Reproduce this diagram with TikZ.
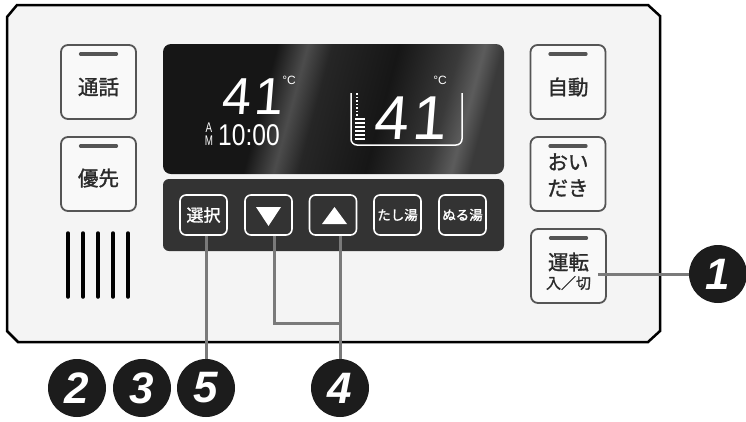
\documentclass[tikz,border=0pt]{standalone}
\usepackage{fontspec}
\usepackage{graphicx}
\setmainfont{Liberation Sans}
\newfontfamily\jp[FakeBold=1.4]{Noto Sans CJK JP}
\newfontfamily\seg[FakeSlant=0.08]{Liberation Sans}

\definecolor{panelgray}{HTML}{F4F4F4}
\definecolor{btngray}{HTML}{555555}
\definecolor{btnfill}{HTML}{F9F9F9}
\definecolor{txtgray}{HTML}{2A2A2A}
\definecolor{keyback}{HTML}{333333}
\definecolor{leadgray}{HTML}{7A7A7A}
\definecolor{markblack}{HTML}{1C1C1C}
\definecolor{lcdA}{HTML}{161616}
\definecolor{lcdB}{HTML}{4C4C4C}
\definecolor{lcdD}{HTML}{262626}
\definecolor{lcdE}{HTML}{3A3A3A}
\definecolor{lcdC}{HTML}{5C5C5C}
\pgfdeclarehorizontalshading{lcdglare}{100bp}{color(0bp)=(lcdA); color(25bp)=(lcdA); color(38bp)=(lcdA); color(43bp)=(lcdB); color(47bp)=(lcdD); color(58bp)=(lcdA); color(68bp)=(lcdE); color(72bp)=(lcdC); color(75bp)=(lcdE); color(100bp)=(lcdE)}

\begin{document}
\begin{tikzpicture}[x=1pt,y=-1pt,
	btn/.style={draw=btngray,line width=1.8pt,rounded corners=7pt,fill=btnfill,minimum width=75pt,minimum height=74pt,inner sep=0pt,
		path picture={\draw[line width=3.2pt,line cap=round] ([xshift=-18pt,yshift=-9pt]path picture bounding box.north) -- ([xshift=18pt,yshift=-9pt]path picture bounding box.north);}},
	lbl/.style={font=\jp\fontsize{20.5}{26}\selectfont,text=txtgray,inner sep=0pt,align=center},
	key/.style={draw=white,line width=1.6pt,rounded corners=6pt,minimum width=47pt,minimum height=40pt,inner sep=0pt,text=white},
	lcdtext/.style={text=white,inner sep=0pt,text depth=0pt},
	lead/.style={draw=leadgray,line width=3pt},
	callout/.style={circle,fill=markblack,minimum size=58pt,inner sep=0pt,text=white,font=\fontsize{44}{44}\selectfont\bfseries\itshape}]
	\useasboundingbox (0,0) rectangle (746,421);
	\fill[white] (0,0) rectangle (746,421);
	\draw[line width=2.5pt,fill=panelgray] (17,5) -- (648,5) -- (660,16) -- (660,331) -- (648,342) -- (18,342) -- (7,331) -- (7,17) -- cycle;

	\node[btn] (tsuwa) at (98.5,82) {};
	\node[btn] (yusen) at (98.5,174) {};
	\node[btn] (jidou) at (568,82) {};
	\node[btn] (oidaki) at (568,174) {};
	\node[btn] (unten) at (568.5,266) {};
	\node[lbl] (tsuwa-t) at ([yshift=-5pt]tsuwa.center) {通話};
	\node[lbl] (yusen-t) at ([yshift=-4pt]yusen.center) {優先};
	\node[lbl] (jidou-t) at ([yshift=-5pt]jidou.center) {自動};
	\node[lbl] (oidaki-t) at ([yshift=-1pt]oidaki.center) {おい\\だき};
	\node[lbl] (unten-t) at ([yshift=4pt]unten.center) {運転};
	\node[lbl,font=\jp\fontsize{15}{15}\selectfont] (kiri-t) at ([yshift=-17pt]unten.center) {入／切};

	\foreach \x in {68,83,...,128}
		\draw[line width=3.5pt,line cap=round] (\x,233) -- (\x,297);

	\shade[shading=lcdglare,shading angle=-15,rounded corners=8pt] (163,44) rectangle (504,174);
	\fill[keyback,rounded corners=6pt] (163,179) rectangle (504,251);

	\node[lcdtext,font=\seg\fontsize{52}{52}\selectfont,text height=37pt,anchor=west] (tempa) at (221,95.5) {4\hspace{3.5pt}1};
	\node[lcdtext,font=\fontsize{12}{12}\selectfont] (dega) at (289,80) {°C};
	\node[lcdtext,font=\fontsize{14}{12.5}\selectfont,align=center] (ampm) at (209,134) {\scalebox{0.7}[1]{A}\\\scalebox{0.7}[1]{M}};
	\node[lcdtext,font=\fontsize{30}{30}\selectfont,text height=21.5pt] (clock) at (249,134.5) {\scalebox{0.82}[1]{10:00}};
	\node[lcdtext,font=\seg\fontsize{62}{62}\selectfont,text height=44.5pt,anchor=west] (tempb) at (373,117.5) {4\hspace{4pt}1};
	\node[lcdtext,font=\fontsize{12}{12}\selectfont] (degb) at (440,80) {°C};
	\draw[white,line width=1.5pt,rounded corners=6pt] (351,93) -- (351,145) -- (462,145) -- (462,93);
	\draw[white,line width=1.5pt,dash pattern=on 1.5pt off 2pt] (357,93) -- (357,116);
	\foreach \y in {119,123,...,139}
		\draw[white,line width=1.5pt] (355,\y) -- (365,\y);

	\node[key,font=\jp\fontsize{17}{17}\selectfont] (sentaku) at (203.5,215) {選択};
	\node[key] (down) at (268.5,215) {};
	\node[key] (up) at (333,215) {};
	\node[key,font=\jp\fontsize{13.5}{13.5}\selectfont] (tashiyu) at (397.5,215) {たし湯};
	\node[key,font=\jp\fontsize{13.5}{13.5}\selectfont] (nuruyu) at (462.5,215) {ぬる湯};
	\fill[white] (256,207) -- (281,207) -- (268.5,226) -- cycle;
	\fill[white] (322,224) -- (347,224) -- (334.5,207) -- cycle;

	\node[callout] (m1) at (718,274) {1};
	\node[callout] (m2) at (77,388) {2};
	\node[callout] (m3) at (142,388) {3};
	\node[callout] (m5) at (206,388) {5};
	\node[callout] (m4) at (340,388) {4};
	\coordinate (bend) at (340,323);

	\draw[lead] ([xshift=-9pt,yshift=-8pt]unten.east) -- (m1.west);
	\draw[lead] ([xshift=2.5pt]sentaku.south) -- (m5.north);
	\draw[lead] ([xshift=6pt]down.south) |- (bend);
	\draw[lead] ([xshift=7pt]up.south) -- (m4.north);
\end{tikzpicture}
\end{document}
